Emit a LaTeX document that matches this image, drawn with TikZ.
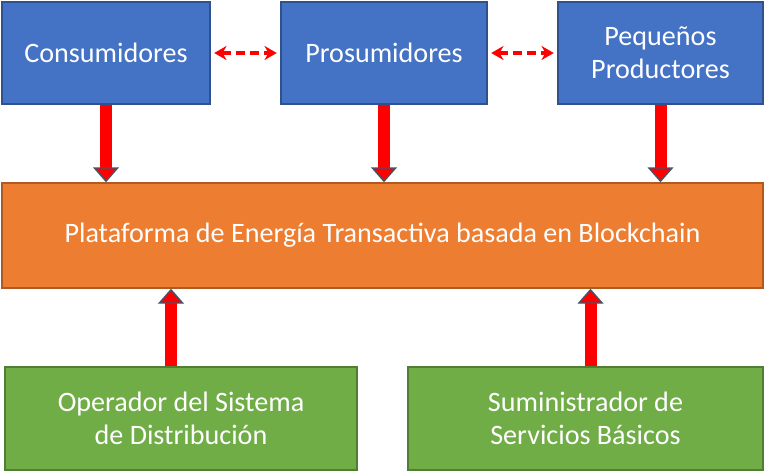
\documentclass[tikz,border=0pt]{standalone}
\usepackage{fontspec}
\setmainfont{Carlito}
\usetikzlibrary{arrows.meta}
\definecolor{azul}{HTML}{4472C4}
\definecolor{azulborde}{HTML}{2F528F}
\definecolor{naranja}{HTML}{ED7D31}
\definecolor{naranjaborde}{HTML}{AE5A21}
\definecolor{verde}{HTML}{70AD47}
\definecolor{verdeborde}{HTML}{507E32}
\definecolor{flechaborde}{HTML}{44546A}

\begin{document}
\begin{tikzpicture}
\tikzstyle{caja}=[draw, line width=0.8pt, text=white, align=center, font=\fontsize{16}{19}\selectfont, inner sep=0pt]
\tikzstyle{actor}=[caja, fill=azul, draw=azulborde, minimum height=2.04cm]
\tikzstyle{base}=[caja, fill=verde, draw=verdeborde, minimum height=2.06cm]
\tikzstyle{flecha}=[draw=red, line width=0.24cm, -{Triangle[width=0.52cm, length=0.3cm, line width=0.8pt, color=flechaborde, fill=red]}]
\tikzstyle{enlace}=[draw=red, line width=1.8pt, dash pattern=on 5pt off 3pt, {Stealth[length=7pt, width=8pt]}-{Stealth[length=7pt, width=8pt]}]
\useasboundingbox (0,0) rectangle (15.32,9.4);

\node[actor, minimum width=4.16cm] (cons) at (2.12,8.34) {Consumidores};
\node[actor, minimum width=4.12cm] (pros) at (7.68,8.34) {Prosumidores};
\node[actor, minimum width=4.10cm] (peq) at (13.21,8.34) {Pequeños\\Productores};
\node[caja, fill=naranja, draw=naranjaborde, minimum width=15.22cm, minimum height=2.1cm] (plat) at (7.65,4.69) {Plataforma de Energía Transactiva basada en Blockchain};
\node[base, minimum width=7.04cm] (op) at (3.62,1.03) {Operador del Sistema\\de Distribución};
\node[base, minimum width=7.1cm] (sum) at (11.71,1.03) {Suministrador de\\Servicios Básicos};

\draw[enlace] ([xshift=2pt]cons.east) -- ([xshift=-2pt]pros.west);
\draw[enlace] ([xshift=2pt]pros.east) -- ([xshift=-2pt]peq.west);

\draw[flecha] (cons.south) -- (cons.south |- plat.north);
\draw[flecha] (pros.south) -- (pros.south |- plat.north);
\draw[flecha] (peq.south) -- (peq.south |- plat.north);
\draw[flecha] ([xshift=-0.2cm]op.north) -- ([xshift=-0.2cm]op.north |- plat.south);
\draw[flecha] ([xshift=0.1cm]sum.north) -- ([xshift=0.1cm]sum.north |- plat.south);

  \end{tikzpicture}
\end{document}
